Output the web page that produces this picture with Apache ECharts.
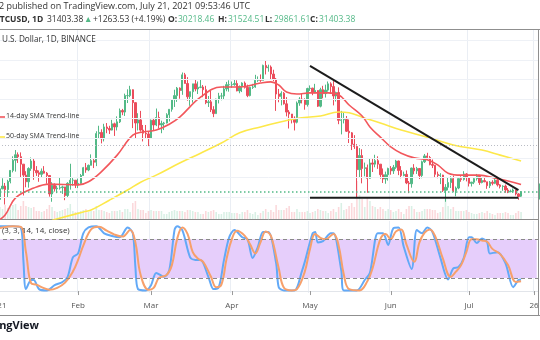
<!DOCTYPE html>
<html>
<head>
<meta charset="utf-8">
<script src="https://cdn.jsdelivr.net/npm/echarts@6/dist/echarts.min.js"></script>
<style>html,body{margin:0;padding:0;background:#fff;}#c{width:540px;height:340px;}</style>
</head>
<body>
<div id="c"></div>
<script>
// ---------- DATA (BTCUSD daily, 2021-01-01 .. 2021-07-21) ----------
const opens = [
28900,29400,32100,32800,31900,34000,36800,39400,40800,40300,38400,35600,33900,37300,39200,36800,36200,35800,36600,36100,35500,30800,33000,32100,32300,32400,32600,30400,33500,34300,34300,
33100,33500,35500,37500,36900,38100,39300,38900,46200,46500,44900,47900,47500,47100,48700,47900,49200,52100,51700,55900,55900,57400,54100,48900,49700,47100,46300,46100,
45100,49600,48400,50300,48400,48800,48900,51000,52400,54900,55900,57800,57200,61200,59000,55600,56900,58900,57600,58000,58100,57400,54100,54300,52300,51300,55000,55800,55800,57600,58700,
58700,58700,59000,57100,58200,59100,58000,55900,58000,58100,59800,60000,59800,63600,63000,63200,61400,60100,56300,55700,56500,53800,51700,51200,50100,49100,54000,55000,54800,53600,
57700,57800,56600,57200,53200,57400,56400,57300,58900,58200,55800,56700,49600,49700,49800,46800,46400,43500,42900,37000,40600,37300,37500,34800,38700,38400,39300,38400,35700,34600,35700,
37300,36700,37600,39200,36800,35500,35800,33600,33400,37400,36700,37300,35500,39000,40500,40100,38300,38100,35800,35500,35600,31700,32500,33700,34700,31600,32300,34700,34500,35900,
35000,33500,33800,34700,35300,33700,34200,33900,32900,33800,33500,34300,33100,32700,32800,31800,31400,31500,31800,30800,30218];
const highs = [
29600,33300,34800,33600,34400,36900,40400,42000,41400,41400,38400,36600,37600,40100,39700,37900,36800,37300,37900,36400,35600,33800,33500,32900,34900,32900,32600,33800,38500,34900,34300,
34700,35900,37700,38700,38300,40900,39700,46800,48200,47300,48700,48900,48200,49700,49000,50600,52600,52500,56400,57500,58400,57500,54200,51400,52000,48400,48400,46600,
49800,50200,52600,51800,49500,49200,51400,52400,54900,57400,58100,58000,61800,61700,60600,56900,58900,60100,59500,59900,58600,58400,55800,57200,53200,55100,56600,56600,58400,59400,59800,
59500,60000,59800,58500,59300,59500,58700,58200,58900,61200,60800,61300,63800,64900,63800,63600,62500,60400,57600,57000,56800,55500,52200,51200,50600,54400,55500,56400,55200,57900,
58500,57900,58900,57200,57900,58400,58700,59500,59300,59600,56900,58000,52000,51500,50700,49800,46600,45800,43500,42500,42200,38800,38300,39900,39800,40800,40400,38400,37300,36500,37500,
37900,38200,39500,39300,37900,36500,36800,34100,37500,38400,37700,37400,39300,41000,41300,40500,39600,38200,36500,36100,35700,33300,34900,35300,35500,32700,34700,35300,36600,36100,
35000,33900,34900,35900,35300,35000,35100,33900,34100,34300,34600,34700,33300,33000,33200,32300,31900,32200,31900,31000,31525];
const lows = [
28600,28900,32000,28100,30000,33500,36300,36500,38700,35100,30400,32500,32400,36700,34400,35400,33900,34900,36000,33400,30100,28800,31400,31000,31900,30800,29200,29900,31900,32900,32300,
32300,33400,35400,36200,36600,38100,37400,37900,45000,43700,44200,46300,46100,47000,45600,47000,48900,50900,50700,54000,55500,47600,44900,47000,46700,44200,45000,43000,
45000,47000,48100,47500,46300,47100,48800,49300,51800,53000,54300,55100,56100,59000,54600,53300,54100,57000,56300,57800,55500,53700,53000,51700,50400,51300,53900,54700,54900,57000,56900,
57900,58400,57000,56500,56800,57700,55500,55700,57600,57900,59400,59400,59800,61300,62000,60000,59600,52000,54200,53400,53600,50600,47500,48800,47000,48800,53300,53900,52300,53100,
57100,56000,56500,53000,52900,55200,55400,56900,56300,53400,54400,48600,46000,48800,46600,43800,42000,42300,30000,35000,33500,35300,31100,34700,36400,37600,37200,34700,33600,33400,34200,
35700,35900,37200,35600,34800,35300,33300,31000,32400,35800,35900,34600,34800,38700,39500,38100,37400,35100,34800,33300,31300,28800,31700,32300,31300,30200,32000,33900,34200,34000,
32700,32700,33300,34200,33100,33500,33800,32100,32300,33000,33300,32700,32200,31600,31100,31000,31200,31100,30400,29300,29862];
const closes = [
29400,32100,32800,31900,34000,36800,39400,40800,40300,38400,35600,33900,37300,39200,36800,36200,35800,36600,36100,35500,30800,33000,32100,32300,32400,32600,30400,33500,34300,34300,33100,
33500,35500,37500,36900,38100,39300,38900,46200,46500,44900,47900,47500,47100,48700,47900,49200,52100,51700,55900,55900,57400,54100,48900,49700,47100,46300,46100,45100,
49600,48400,50300,48400,48800,48900,51000,52400,54900,55900,57800,57200,61200,59000,55600,56900,58900,57600,58000,58100,57400,54100,54300,52300,51300,55000,55800,55800,57600,58700,58700,
58700,59000,57100,58200,59100,58000,55900,58000,58100,59800,60000,59800,63600,63000,63200,61400,60100,56300,55700,56500,53800,51700,51200,50100,49100,54000,55000,54800,53600,57700,
57800,56600,57200,53200,57400,56400,57300,58900,58200,55800,56700,49600,49700,49800,46800,46400,43500,42900,37000,40600,37300,37500,34800,38700,38400,39300,38400,35700,34600,35700,37300,
36700,37600,39200,36800,35500,35800,33600,33400,37400,36700,37300,35500,39000,40500,40100,38300,38100,35800,35500,35600,31700,32500,33700,34700,31600,32300,34700,34500,35900,35000,
33500,33800,34700,35300,33700,34200,33900,32900,33800,33500,34300,33100,32700,32800,31800,31400,31500,31800,30800,30140,31403.38];
// volume (thousand units)
const volumes = [
8,12,10,14,11,12,14,15,9,13,18,13,12,11,12,8,8,7,8,10,14,12,8,7,8,9,10,11,15,8,7,
7,8,9,10,7,8,8,13,9,9,8,7,6,8,8,8,9,7,10,10,7,16,18,10,9,9,6,8,
9,8,8,8,8,5,5,7,8,9,8,8,8,7,9,9,8,7,7,5,5,8,7,8,9,7,5,5,7,7,7,
6,6,6,5,7,7,9,6,5,7,4,6,8,10,7,9,7,14,9,9,9,11,13,7,7,10,7,7,7,8,
6,7,8,10,9,8,8,6,8,10,7,12,16,9,10,13,16,12,38,24,20,12,22,18,13,12,10,12,10,8,10,
9,7,8,10,7,5,10,13,13,10,7,7,8,10,10,10,9,9,6,7,12,20,13,10,12,8,8,8,8,9,
7,6,5,5,6,7,6,8,6,5,4,6,6,6,7,6,4,4,6,8,7];
// 14-day SMA
const sma14Dates = ['01-01','01-04','01-08','01-15','01-21','02-01','02-05','02-10','02-16','02-22','02-26','03-03','03-08','03-12','03-20','03-28','04-04','04-12','04-16','04-19','04-22','04-26','05-01','05-08','05-12','05-16','05-21','05-24','05-28','06-01','06-05','06-10','06-15','06-19','06-23','06-28','07-05','07-11','07-16','07-21'];
const sma14 = [23900,25400,29800,32300,33300,33100,33900,36500,40700,45800,46600,47100,48600,50400,55500,58100,58100,59100,59400,58600,56800,56300,56600,56600,56100,53500,50700,47900,45300,42800,41200,40000,39500,38200,36100,35600,35600,34800,34100,33200];
// 50-day SMA
const sma50Dates = ['01-22','02-03','02-06','02-13','02-20','02-25','03-03','03-12','03-20','03-28','04-04','04-12','04-20','04-27','05-05','05-12','05-16','05-21','05-28','06-05','06-15','06-25','07-06','07-13','07-21'];
const sma50 = [24100,26200,26700,29200,31800,33800,35600,38700,41200,43800,46400,47900,49200,50200,50700,51700,51500,50400,48900,47100,45300,43300,42000,40700,39200];
// drawn trend lines
const trendDates = ['05-01','07-20'];
const trendPrices = [63470,31790];
const supportDates = ['05-01','07-20'];
const supportPrices = [29800,29800];
const markedLevel = 43300;
// Stoch RSI (3,3,14,14) %K and %D
const kDates = ['01-01','01-02','01-07','01-10','01-11','01-12','01-14','01-15','01-17','01-20','01-23','01-26','01-28','01-30','02-01','02-03','02-05','02-08','02-11','02-14','02-17','02-20','02-22','02-23','02-24','02-27','03-01','03-03','03-06','03-08','03-10','03-11','03-13','03-16','03-18','03-20','03-23','03-25','03-27','03-29','03-31','04-02','04-05','04-07','04-09','04-11','04-13','04-15','04-18','04-19','04-21','04-25','04-28','04-29','05-02','05-03','05-04','05-06','05-09','05-10','05-13','05-14','05-19','05-22','05-24','05-27','05-29','05-31','06-02','06-04','06-06','06-09','06-11','06-13','06-15','06-17','06-20','06-23','06-25','06-27','06-29','07-01','07-02','07-04','07-06','07-08','07-09','07-12','07-15','07-18','07-20','07-21'];
const kValues = [100,100,100,98,48,3,17,17,3,1,9,14,22,52,58,89,98,100,89,85,83,98,89,37,3,1,9,28,22,32,94,100,94,52,48,48,22,3,6,48,83,94,83,80,51,68,91,91,43,6,1,1,32,45,89,91,75,77,89,89,32,1,1,17,28,89,89,71,97,98,68,34,94,89,98,91,52,18,35,37,51,83,83,74,81,75,58,60,43,6,17,18];
const dDates = ['01-01','01-02','01-07','01-10','01-12','01-14','01-16','01-18','01-21','01-24','01-27','01-30','02-01','02-03','02-06','02-09','02-12','02-15','02-18','02-21','02-23','02-25','02-28','03-02','03-04','03-07','03-09','03-11','03-13','03-15','03-17','03-19','03-21','03-24','03-26','03-28','03-30','04-01','04-03','04-06','04-08','04-10','04-12','04-14','04-16','04-19','04-21','04-24','04-26','04-29','05-01','05-03','05-05','05-07','05-10','05-12','05-14','05-16','05-20','05-23','05-25','05-28','05-30','06-01','06-03','06-05','06-07','06-10','06-12','06-14','06-16','06-18','06-21','06-24','06-26','06-28','06-30','07-02','07-04','07-06','07-08','07-10','07-13','07-16','07-19','07-21'];
const dValues = [95,97,100,99,60,12,10,6,2,5,13,30,48,70,95,99,93,87,84,94,75,25,2,5,20,25,40,80,98,88,60,50,45,22,6,10,50,80,93,85,72,58,75,92,85,35,5,1,3,30,65,88,82,80,88,70,25,3,1,15,35,80,88,80,92,95,72,45,75,90,95,85,50,22,30,40,60,80,80,78,76,65,57,40,14,15];
const stochUpper = 80, stochLower = 20;
// axis
const tickDates = ['01-01','02-01','03-01','04-01','05-01','06-01','07-01','07-26'];
const tickNames = ['2021','Feb','Mar','Apr','May','Jun','Jul','26'];
const priceGrid = [30000,35000,40000,45000,50000,55000,60000,65000,70000];
// header texts
const headerTokens = [
  ['BTCUSD, 1D', 'b', -6], ['31403.38', 'n', 47], ['▲', 'g', 84], ['+1263.53 (+4.19%)', 'n', 93],
  ['O:', 'b', 168], ['30218.46', 'g', 178], ['H:', 'b', 218], ['31524.51', 'g', 228],
  ['L:', 'b', 265], ['29861.61', 'g', 274], ['C:', 'b', 310], ['31403.38', 'g', 319]
];

// ---------- BUILD ----------
const cats = [];
for (let i = 0; i < 208; i++) {
  const d = new Date(Date.UTC(2021, 0, 1 + i));
  cats.push(String(d.getUTCMonth() + 1).padStart(2, '0') + '-' + String(d.getUTCDate()).padStart(2, '0'));
}
const UP = '#53b987', DOWN = '#eb4d5c';
const FONT = '"Open Sans", sans-serif';
const candle = opens.map((o, i) => [o, closes[i], lows[i], highs[i]]);
const vol = volumes.map((v, i) => ({
  value: v,
  itemStyle: { color: closes[i] >= opens[i] ? 'rgba(83,185,135,0.22)' : 'rgba(235,77,92,0.22)' }
}));
const pairs = (xs, ys) => xs.map((x, i) => [x, ys[i]]);
const isTick = (idx, v) => tickDates.indexOf(v) >= 0;
const lastClose = closes[closes.length - 1];
const gridBase = { left: -4, right: 2, outerBoundsMode: 'none', containLabel: false };

const headerGraphics = headerTokens.map(([t, k, x]) => ({
  type: 'text', left: x, top: 15, z: 100,
  style: { text: t, fontSize: 8.5, fontFamily: 'Open Sans', fontWeight: k === 'b' ? 'bold' : 'normal',
    fill: k === 'g' ? UP : '#333' }
}));

const chart = echarts.init(document.getElementById('c'), null, { renderer: 'canvas' });
chart.setOption({
  animation: false,
  backgroundColor: '#fff',
  grid: [
    Object.assign({ top: 29, height: 190 }, gridBase),
    Object.assign({ top: 169, height: 50 }, gridBase),
    Object.assign({ top: 221, height: 72 }, gridBase)
  ],
  xAxis: [
    { type: 'category', gridIndex: 0, data: cats,
      axisLine: { show: true, lineStyle: { color: '#8c8c8c' } },
      axisTick: { show: false }, axisLabel: { show: false },
      splitLine: { show: true, interval: isTick, lineStyle: { color: '#eaeef4' } } },
    { type: 'category', gridIndex: 1, data: cats, show: false },
    { type: 'category', gridIndex: 2, data: cats,
      axisLine: { show: true, lineStyle: { color: '#e2e5ea' } },
      axisTick: { show: true, interval: isTick, alignWithLabel: true, length: 4, lineStyle: { color: '#9a9a9a' } },
      axisLabel: { interval: isTick, formatter: v => tickNames[tickDates.indexOf(v)], fontSize: 8, color: '#555', margin: 9, fontFamily: FONT, hideOverlap: false },
      splitLine: { show: true, interval: isTick, lineStyle: { color: '#eaeef4' } } }
  ],
  yAxis: [
    { type: 'value', gridIndex: 0, min: 24400, max: 72900, position: 'right',
      axisLine: { show: false }, axisTick: { show: false }, axisLabel: { show: false }, splitLine: { show: false } },
    { type: 'value', gridIndex: 1, min: 0, max: 50, show: false, splitLine: { show: false } },
    { type: 'value', gridIndex: 2, min: -3, max: 108, show: false, splitLine: { show: false } }
  ],
  series: [
    { type: 'line', xAxisIndex: 0, yAxisIndex: 0, data: [], z: 0, silent: true,
      markLine: { silent: true, symbol: 'none', label: { show: false }, animation: false,
        lineStyle: { color: '#eef1f6', type: 'solid', width: 1 },
        data: priceGrid.map(v => ({ yAxis: v })) } },
    { type: 'bar', xAxisIndex: 1, yAxisIndex: 1, data: vol, barWidth: '60%', z: 1, silent: true },
    { type: 'candlestick', xAxisIndex: 0, yAxisIndex: 0, data: candle, barWidth: '70%', z: 3,
      itemStyle: { color: UP, color0: DOWN, borderColor: UP, borderColor0: DOWN, borderWidth: 1 },
      markLine: { silent: true, symbol: 'none', animation: false,
        data: [
          { yAxis: markedLevel, lineStyle: { color: '#b9bcc4', type: [1, 2], width: 1.2 }, label: { show: false } },
          { yAxis: lastClose, lineStyle: { color: UP, type: [1.5, 2.5], width: 1.5 },
            label: { show: true, position: 'end', distance: 1, formatter: String(lastClose), backgroundColor: UP, color: '#fff', fontSize: 8, padding: [4, 3] } }
        ] } },
    { type: 'line', name: '50-day SMA', xAxisIndex: 0, yAxisIndex: 0, data: pairs(sma50Dates, sma50), smooth: 0.4,
      symbol: 'none', z: 4, lineStyle: { color: '#fde84a', width: 1.6 } },
    { type: 'line', name: '14-day SMA', xAxisIndex: 0, yAxisIndex: 0, data: pairs(sma14Dates, sma14), smooth: 0.4,
      symbol: 'none', z: 4, lineStyle: { color: '#f2575c', width: 1.6 } },
    { type: 'line', xAxisIndex: 0, yAxisIndex: 0, data: pairs(trendDates, trendPrices), symbol: 'none', z: 5,
      lineStyle: { color: '#1c1c1c', width: 2 } },
    { type: 'line', xAxisIndex: 0, yAxisIndex: 0, data: pairs(supportDates, supportPrices), symbol: 'none', z: 5,
      lineStyle: { color: '#1c1c1c', width: 2 } },
    { type: 'line', name: '%K', xAxisIndex: 2, yAxisIndex: 2, data: pairs(kDates, kValues), smooth: 0.3,
      symbol: 'none', z: 3, lineStyle: { color: '#62a9f7', width: 2 },
      markArea: { silent: true, itemStyle: { color: '#e6cefb' },
        data: [[{ xAxis: cats[0], yAxis: stochUpper }, { xAxis: cats[cats.length - 1], yAxis: stochLower }]] },
      markLine: { silent: true, symbol: 'none', label: { show: false }, animation: false,
        lineStyle: { color: '#8a8a8a', type: [4, 3], width: 1 },
        data: [{ yAxis: stochUpper }, { yAxis: stochLower }] } },
    { type: 'line', name: '%D', xAxisIndex: 2, yAxisIndex: 2, data: pairs(dDates, dValues), smooth: 0.4,
      symbol: 'none', z: 4, lineStyle: { color: '#f7a06b', width: 2 } }
  ],
  graphic: [
    { type: 'line', shape: { x1: 0, y1: 29.5, x2: 540, y2: 29.5 }, style: { stroke: '#8f8f8f', lineWidth: 1 }, z: 100 },
    { type: 'line', shape: { x1: 538.5, y1: 29, x2: 538.5, y2: 315 }, style: { stroke: '#8f8f8f', lineWidth: 1 }, z: 100 },
    { type: 'line', shape: { x1: 0, y1: 315.5, x2: 540, y2: 315.5 }, style: { stroke: '#8f8f8f', lineWidth: 1 }, z: 100 },
    { type: 'text', left: -1, top: 2, z: 100,
      style: { text: '2 published on TradingView.com, July 21, 2021 09:53:46 UTC', fontSize: 9, fontFamily: 'Open Sans', fill: '#333' } }
  ].concat(headerGraphics, [
    { type: 'text', left: 2, top: 36, z: 100,
      style: { text: 'U.S. Dollar, 1D, BINANCE', fontSize: 8.2, fontFamily: 'Open Sans', fill: '#333' } },
    { type: 'line', shape: { x1: 0, y1: 117, x2: 5, y2: 117 }, style: { stroke: '#f2575c', lineWidth: 1.6 }, z: 100 },
    { type: 'text', left: 6, top: 112, z: 100,
      style: { text: '14-day SMA Trend-line', fontSize: 7, fontFamily: 'Open Sans', fill: '#333' } },
    { type: 'line', shape: { x1: 0, y1: 137, x2: 5, y2: 137 }, style: { stroke: '#fde84a', lineWidth: 1.6 }, z: 100 },
    { type: 'text', left: 6, top: 132, z: 100,
      style: { text: '50-day SMA Trend-line', fontSize: 7, fontFamily: 'Open Sans', fill: '#333' } },
    { type: 'text', left: 2, top: 227, z: 100,
      style: { text: '(3, 3, 14, 14, close)', fontSize: 8, fontFamily: 'Open Sans', fill: '#333' } },
    { type: 'text', right: 501, top: 320, z: 100,
      style: { text: 'TradingView', fontSize: 11, fontWeight: 'bold', fontFamily: 'Open Sans', fill: '#131722' } }
  ])
});
</script>
</body>
</html>
